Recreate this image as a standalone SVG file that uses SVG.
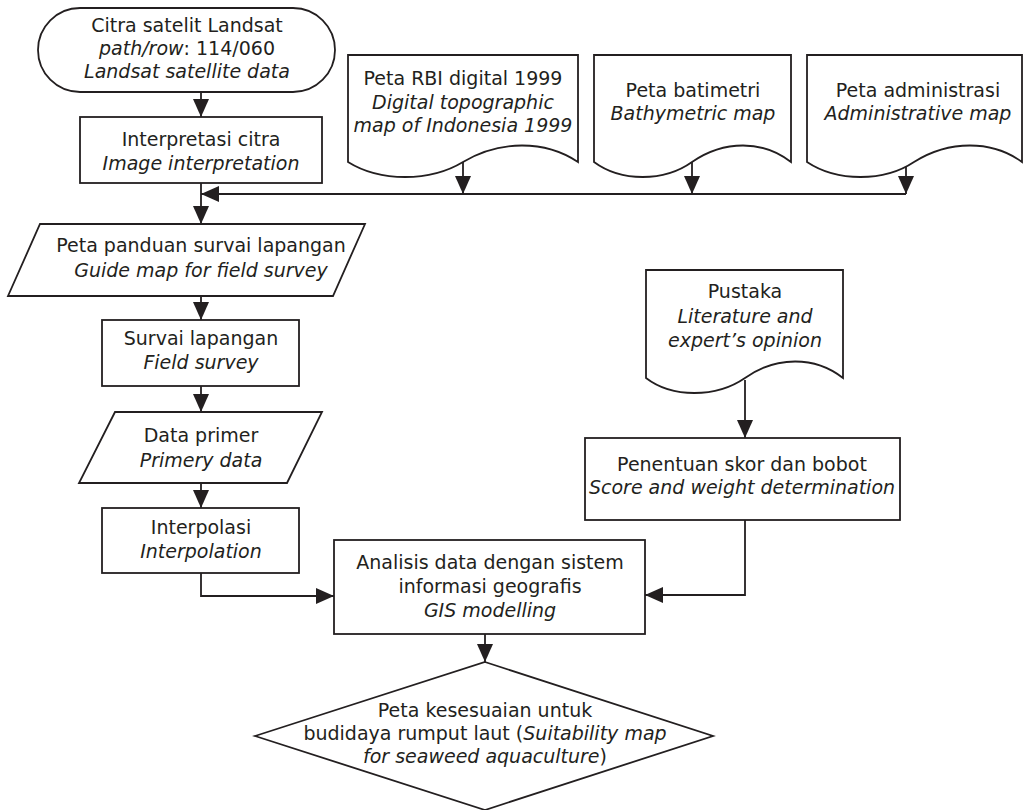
<svg xmlns="http://www.w3.org/2000/svg" width="1024" height="810" viewBox="0 0 1024 810">
<style>
text{font-family:"DejaVu Sans",sans-serif;font-size:19px;fill:#231f20;text-anchor:middle}
.i{font-style:italic}
.n{fill:#fff;stroke:#231f20;stroke-width:1.8}
.c{fill:none;stroke:#231f20;stroke-width:1.8}
</style>
<defs>
<marker id="ah" markerUnits="userSpaceOnUse" markerWidth="18" markerHeight="16" refX="18" refY="8" orient="auto">
<path d="M0,0 L18,8 L0,16 z" fill="#231f20"/>
</marker>
</defs>
<rect width="1024" height="810" fill="#fff"/>
<g id="connectors">
<path class="c" d="M201,92 V117" marker-end="url(#ah)"/>
<path class="c" d="M201,183 V224" marker-end="url(#ah)"/>
<path class="c" d="M906,194 H201" marker-end="url(#ah)"/>
<path class="c" d="M463,160 V194" marker-end="url(#ah)"/>
<path class="c" d="M692,160 V194" marker-end="url(#ah)"/>
<path class="c" d="M906,165 V194" marker-end="url(#ah)"/>
<path class="c" d="M201,296 V320" marker-end="url(#ah)"/>
<path class="c" d="M201,386 V412" marker-end="url(#ah)"/>
<path class="c" d="M201,483 V508" marker-end="url(#ah)"/>
<path class="c" d="M201,573 V596 H334" marker-end="url(#ah)"/>
<path class="c" d="M745,380 V438" marker-end="url(#ah)"/>
<path class="c" d="M745,520 V595 H645" marker-end="url(#ah)"/>
<path class="c" d="M485,634 V662" marker-end="url(#ah)"/>
</g>
<g id="landsat">
<rect class="n" x="38" y="8" width="297" height="84" rx="42" ry="42"/>
<text x="187" y="32">Citra satelit Landsat</text>
<text x="187" y="55"><tspan class="i">path/row</tspan>: 114/060</text>
<text x="187" y="78" class="i">Landsat satellite data</text>
</g>
<g id="interpretasi">
<rect class="n" x="80" y="117" width="242" height="66"/>
<text x="201" y="146">Interpretasi citra</text>
<text x="201" y="170" class="i">Image interpretation</text>
</g>
<g id="rbi">
<path class="n" d="M348,162 V55 H578 V162 C545,140 500,140 463,162 C430,182 380,182 348,162 Z"/>
<text x="463" y="85">Peta RBI digital 1999</text>
<text x="463" y="109" class="i">Digital topographic</text>
<text x="463" y="132" class="i">map of Indonesia 1999</text>
</g>
<g id="batimetri">
<path class="n" d="M594,162 V55 H791 V162 C763,140 724,140 692,162 C664,182 621,182 594,162 Z"/>
<text x="693" y="97">Peta batimetri</text>
<text x="693" y="120" class="i">Bathymetric map</text>
</g>
<g id="administrasi">
<path class="n" d="M807,162 V55 H1022 V162 C992,140 949,140 914,162 C884,182 837,182 807,162 Z"/>
<text x="918" y="97">Peta administrasi</text>
<text x="918" y="120" class="i">Administrative map</text>
</g>
<g id="panduan">
<path class="n" d="M40,224 H365 L333,296 H8 Z"/>
<text x="201" y="252">Peta panduan survai lapangan</text>
<text x="201" y="277" class="i">Guide map for field survey</text>
</g>
<g id="survai">
<rect class="n" x="102" y="320" width="197" height="66"/>
<text x="201" y="345">Survai lapangan</text>
<text x="201" y="369" class="i">Field survey</text>
</g>
<g id="primer">
<path class="n" d="M115,412 H322 L287,483 H79 Z"/>
<text x="201" y="442">Data primer</text>
<text x="201" y="467" class="i">Primery data</text>
</g>
<g id="interpolasi">
<rect class="n" x="102" y="508" width="197" height="65"/>
<text x="201" y="534">Interpolasi</text>
<text x="201" y="558" class="i">Interpolation</text>
</g>
<g id="pustaka">
<path class="n" d="M646,378 V270 H843 V378 C815,356 776,356 745,378 C716,398 672,398 646,378 Z"/>
<text x="745" y="298">Pustaka</text>
<text x="745" y="323" class="i">Literature and</text>
<text x="745" y="347" class="i">expert’s opinion</text>
</g>
<g id="penentuan">
<rect class="n" x="585" y="438" width="315" height="82"/>
<text x="742" y="471">Penentuan skor dan bobot</text>
<text x="742" y="494" class="i">Score and weight determination</text>
</g>
<g id="analisis">
<rect class="n" x="334" y="540" width="311" height="94"/>
<text x="490" y="569">Analisis data dengan sistem</text>
<text x="490" y="593">informasi geografis</text>
<text x="490" y="617" class="i">GIS modelling</text>
</g>
<g id="kesesuaian">
<path class="n" d="M485,662 L713,736 L485,810 L255,736 Z"/>
<text x="485" y="717">Peta kesesuaian untuk</text>
<text x="485" y="740">budidaya rumput laut (<tspan class="i">Suitability map</tspan></text>
<text x="485" y="763"><tspan class="i">for seaweed aquaculture</tspan>)</text>
</g>
</svg>
